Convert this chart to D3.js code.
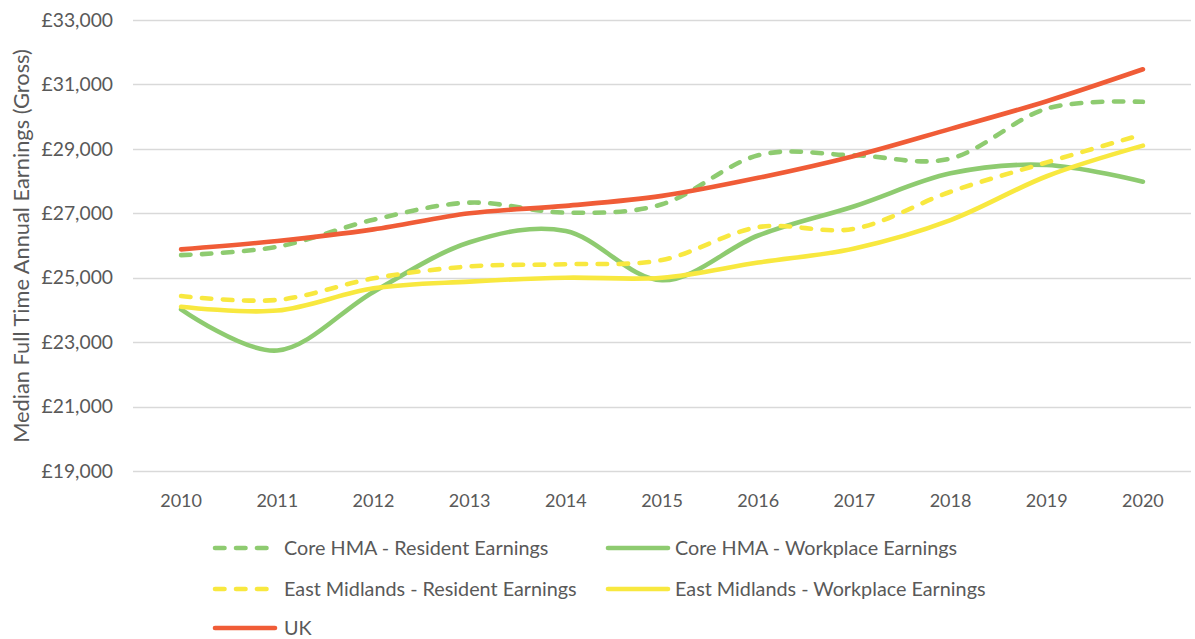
<!DOCTYPE html>
<html><head><meta charset="utf-8">
<script src="https://cdn.jsdelivr.net/npm/d3@7"></script>
<style>
body{margin:0;background:#fff;}
svg text{font-family:Lato,"Open Sans",sans-serif;fill:#595959;}
</style></head>
<body><svg id="c" width="1195" height="639"></svg>
<script>
const years = ["2010","2011","2012","2013","2014","2015","2016","2017","2018","2019","2020"];
const coreResident    = [25700,25960,26800,27330,27020,27280,28800,28800,28700,30250,30460];
const coreWorkplace   = [24020,22740,24560,26100,26450,24920,26310,27220,28240,28500,27980];
const emResident      = [24430,24310,24980,25350,25420,25550,26570,26520,27670,28580,29450];
const emWorkplace     = [24100,23980,24670,24880,25000,25000,25470,25910,26790,28150,29100];
const ukValues        = [25880,26140,26500,27000,27230,27540,28100,28780,29620,30480,31470];
const yTicks = [19000,21000,23000,25000,27000,29000,31000,33000];
const yTitle = "Median Full Time Annual Earnings (Gross)";

const series = [
  {name:"Core HMA - Resident Earnings", values:coreResident, color:"#8ECB70", dash:true},
  {name:"Core HMA - Workplace Earnings", values:coreWorkplace, color:"#8ECB70", dash:false},
  {name:"East Midlands - Resident Earnings", values:emResident, color:"#F8E83F", dash:true},
  {name:"East Midlands - Workplace Earnings", values:emWorkplace, color:"#F8E83F", dash:false},
  {name:"UK", values:ukValues, color:"#F05C37", dash:false}
];

const svg = d3.select("#c");
const x = d3.scaleBand().domain(years).range([133,1191]);
const y = d3.scaleLinear().domain([19000,33000]).range([471,20]);
const fmt = v => "£" + d3.format(",")(v);

// gridlines
svg.append("g").selectAll("line").data(yTicks).join("line")
  .attr("x1",133).attr("x2",1191)
  .attr("y1",d=>Math.round(y(d))+0.5).attr("y2",d=>Math.round(y(d))+0.5)
  .attr("stroke","#D9D9D9").attr("stroke-width",1.3);

// y axis labels
const yAxis = d3.axisLeft(y).tickValues(yTicks).tickFormat(fmt).tickSize(0).tickPadding(0);
const ya = svg.append("g").attr("transform","translate(113,0)").call(yAxis);
ya.select(".domain").remove();
ya.selectAll("text").attr("font-size",19.3).attr("font-family","Lato").attr("fill","#595959");

// x axis labels
const xAxis = d3.axisBottom(x).tickSize(0).tickPadding(0);
const xa = svg.append("g").attr("transform","translate(0,494)").call(xAxis);
xa.select(".domain").remove();
xa.selectAll("text").attr("font-size",18).attr("font-family","Lato").attr("fill","#595959");

// y title
svg.append("text").attr("transform","translate(29,246) rotate(-90)")
  .attr("text-anchor","middle").attr("font-size",21.8).text(yTitle);

// lines
const line = d3.line()
  .x((d,i)=>x(years[i])+x.bandwidth()/2)
  .y(d=>y(d))
  .curve(d3.curveCardinal.tension(0));

svg.append("g").selectAll("path").data(series).join("path")
  .attr("d",d=>line(d.values))
  .attr("fill","none")
  .attr("stroke",d=>d.color)
  .attr("stroke-width",4.6)
  .attr("stroke-linecap","round")
  .attr("stroke-linejoin","round")
  .attr("stroke-dasharray",d=>d.dash?"9.5,11.5":null);

// legend
const legPos = [[213,548],[606,548],[213,589],[606,589],[213,628]];
const leg = svg.append("g").selectAll("g").data(series).join("g")
  .attr("transform",(d,i)=>`translate(${legPos[i][0]},${legPos[i][1]})`);
leg.append("line").attr("x1",2).attr("x2",d=>d.dash?58:62).attr("y1",0).attr("y2",0)
  .attr("stroke",d=>d.color).attr("stroke-width",4.6).attr("stroke-linecap","round")
  .attr("stroke-dasharray",d=>d.dash?"9.5,11.5":null);
leg.append("text").attr("x",(d,i)=>i%2===1?69:71).attr("y",0).attr("dy","0.35em")
  .attr("font-size",19.8).text(d=>d.name);
</script></body></html>
